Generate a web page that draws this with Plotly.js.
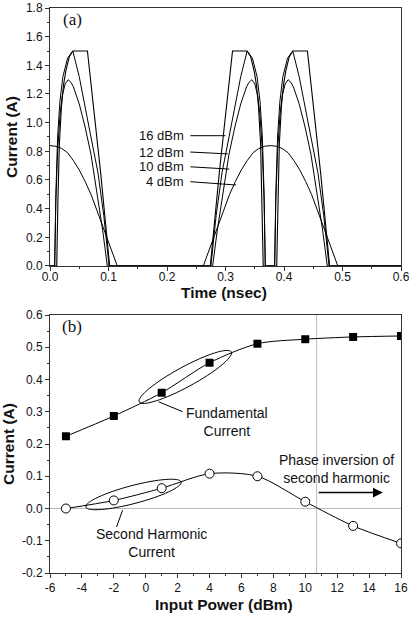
<!DOCTYPE html>
<html>
<head>
<meta charset="utf-8">
<script src="https://cdn.plot.ly/plotly-3.0.1.min.js"></script>
<style>html,body{margin:0;padding:0;background:#fff;}#chart{width:409px;height:623px;}</style>
</head>
<body>
<div id="chart"></div>
<script>
// ---------- Panel (a): current waveforms vs time (nsec) ----------
var t16 = [0, 0.0115, 0.0135, 0.016, 0.0195, 0.023, 0.027, 0.033, 0.039, 0.064, 0.0866, 0.102,
  0.274, 0.2894, 0.312, 0.337, 0.343, 0.349, 0.353, 0.3565, 0.36, 0.3625, 0.3645,
  0.3875, 0.3895, 0.392, 0.3955, 0.399, 0.403, 0.409, 0.415, 0.440, 0.4626, 0.478, 0.6];
var i16 = [0, 0, 0.45, 0.85, 1.11, 1.26, 1.36, 1.46, 1.5, 1.5, 0.65, 0,
  0, 0.65, 1.5, 1.5, 1.46, 1.36, 1.26, 1.11, 0.85, 0.45, 0,
  0, 0.45, 0.85, 1.11, 1.26, 1.36, 1.46, 1.5, 1.5, 0.65, 0, 0];

var t12 = [0, 0.008, 0.010, 0.013, 0.017, 0.022, 0.030, 0.039, 0.05, 0.06, 0.07, 0.082, 0.092, 0.101,
  0.275, 0.284, 0.294, 0.306, 0.316, 0.326, 0.337, 0.346, 0.354, 0.359, 0.363, 0.366, 0.368,
  0.384, 0.386, 0.389, 0.393, 0.398, 0.406, 0.415, 0.426, 0.436, 0.446, 0.458, 0.468, 0.477, 0.6];
var i12 = [0, 0, 0.5, 0.9, 1.15, 1.32, 1.45, 1.5, 1.32, 1.12, 0.9, 0.65, 0.35, 0,
  0, 0.35, 0.65, 0.9, 1.12, 1.32, 1.5, 1.45, 1.32, 1.15, 0.9, 0.5, 0,
  0, 0.5, 0.9, 1.15, 1.32, 1.45, 1.5, 1.32, 1.12, 0.9, 0.65, 0.35, 0, 0];

var t10 = [0, 0.008, 0.010, 0.013, 0.017, 0.021, 0.026, 0.031, 0.036, 0.04, 0.05, 0.06, 0.07, 0.08, 0.09, 0.098,
  0.278, 0.286, 0.296, 0.306, 0.316, 0.326, 0.336, 0.340, 0.345, 0.350, 0.355, 0.359, 0.363, 0.366, 0.368,
  0.384, 0.386, 0.389, 0.393, 0.397, 0.402, 0.407, 0.412, 0.416, 0.426, 0.436, 0.446, 0.456, 0.466, 0.474, 0.6];
var i10 = [0, 0, 0.45, 0.8, 1.05, 1.19, 1.27, 1.3, 1.28, 1.25, 1.13, 0.97, 0.78, 0.53, 0.25, 0,
  0, 0.25, 0.53, 0.78, 0.97, 1.13, 1.25, 1.28, 1.3, 1.27, 1.19, 1.05, 0.8, 0.45, 0,
  0, 0.45, 0.8, 1.05, 1.19, 1.27, 1.3, 1.28, 1.25, 1.13, 0.97, 0.78, 0.53, 0.25, 0, 0];

var t4 = [0, 0.01, 0.02, 0.03, 0.04, 0.05, 0.06, 0.07, 0.08, 0.09, 0.1, 0.108, 0.115,
  0.262, 0.269, 0.277, 0.287, 0.297, 0.307, 0.317, 0.327, 0.337, 0.347, 0.357, 0.367, 0.377,
  0.387, 0.397, 0.407, 0.417, 0.427, 0.437, 0.447, 0.457, 0.467, 0.477, 0.485, 0.492, 0.6];
var i4 = [0.84, 0.835, 0.82, 0.79, 0.735, 0.67, 0.59, 0.5, 0.39, 0.28, 0.165, 0.08, 0,
  0, 0.08, 0.165, 0.28, 0.39, 0.5, 0.59, 0.67, 0.735, 0.79, 0.82, 0.835, 0.84,
  0.835, 0.82, 0.79, 0.735, 0.67, 0.59, 0.5, 0.39, 0.28, 0.165, 0.08, 0, 0];

var waveLabels = ['16 dBm', '12 dBm', '10 dBm', '4 dBm'];

// ---------- Panel (b): harmonic currents vs input power ----------
var powerDbm = [-5, -2, 1, 4, 7, 10, 13, 16];
var fundamental = [0.224, 0.287, 0.359, 0.452, 0.511, 0.525, 0.532, 0.535];
var secondHarmonic = [0.0, 0.025, 0.063, 0.108, 0.100, 0.021, -0.054, -0.108];

// tick labels
var xTicksA = [0, 0.1, 0.2, 0.3, 0.4, 0.5, 0.6];
var xTickTextA = ['0.0', '0.1', '0.2', '0.3', '0.4', '0.5', '0.6'];
var yTicksA = [0, 0.2, 0.4, 0.6, 0.8, 1.0, 1.2, 1.4, 1.6, 1.8];
var yTickTextA = ['0.0', '0.2', '0.4', '0.6', '0.8', '1.0', '1.2', '1.4', '1.6', '1.8'];
var xTicksB = [-6, -4, -2, 0, 2, 4, 6, 8, 10, 12, 14, 16];
var xTickTextB = ['-6', '-4', '-2', '0', '2', '4', '6', '8', '10', '12', '14', '16'];
var yTicksB = [-0.2, -0.1, 0, 0.1, 0.2, 0.3, 0.4, 0.5, 0.6];
var yTickTextB = ['-0.2', '-0.1', '0.0', '0.1', '0.2', '0.3', '0.4', '0.5', '0.6'];

var FONT = 'Liberation Sans, Arial, sans-serif';
var lineStyle = {color: '#000', width: 1};

var traces = [
  {x: t16, y: i16, type: 'scatter', mode: 'lines', line: {color: '#000', width: 1.1}, xaxis: 'x', yaxis: 'y', name: waveLabels[0]},
  {x: t12, y: i12, type: 'scatter', mode: 'lines', line: lineStyle, xaxis: 'x', yaxis: 'y', name: waveLabels[1]},
  {x: t10, y: i10, type: 'scatter', mode: 'lines', line: lineStyle, xaxis: 'x', yaxis: 'y', name: waveLabels[2]},
  {x: t4, y: i4, type: 'scatter', mode: 'lines', line: lineStyle, xaxis: 'x', yaxis: 'y', name: waveLabels[3]},
  {x: powerDbm, y: fundamental, type: 'scatter', mode: 'lines+markers',
   line: {color: '#000', width: 1, shape: 'spline', smoothing: 0.8},
   marker: {symbol: 'square', size: 8, color: '#000'}, xaxis: 'x2', yaxis: 'y2', name: 'Fundamental'},
  {x: powerDbm, y: secondHarmonic, type: 'scatter', mode: 'lines+markers',
   line: {color: '#000', width: 1, shape: 'spline', smoothing: 0.8},
   marker: {symbol: 'circle', size: 9, color: '#fff', line: {color: '#000', width: 1}}, xaxis: 'x2', yaxis: 'y2', name: 'Second harmonic'}
];

function ellipsePath(cx, cy, ux, uy, vx, vy) {
  var k = 0.5523;
  function p(x, y) { return x + ',' + y; }
  var P0 = [cx + ux, cy + uy], P1 = [cx + vx, cy + vy], P2 = [cx - ux, cy - uy], P3 = [cx - vx, cy - vy];
  var s = 'M' + p(P0[0], P0[1]);
  s += ' C' + p(P0[0] + k * vx, P0[1] + k * vy) + ' ' + p(P1[0] + k * ux, P1[1] + k * uy) + ' ' + p(P1[0], P1[1]);
  s += ' C' + p(P1[0] - k * ux, P1[1] - k * uy) + ' ' + p(P2[0] + k * vx, P2[1] + k * vy) + ' ' + p(P2[0], P2[1]);
  s += ' C' + p(P2[0] - k * vx, P2[1] - k * vy) + ' ' + p(P3[0] - k * ux, P3[1] - k * uy) + ' ' + p(P3[0], P3[1]);
  s += ' C' + p(P3[0] + k * ux, P3[1] + k * uy) + ' ' + p(P0[0] - k * vx, P0[1] - k * vy) + ' ' + p(P0[0], P0[1]) + ' Z';
  return s;
}

var axisCommon = {
  showline: true, mirror: true, linecolor: '#333', linewidth: 1,
  ticks: 'outside', ticklen: 4, tickwidth: 1, tickcolor: '#333',
  showgrid: false, zeroline: false,
  tickfont: {family: FONT, size: 12, color: '#111'},
  ticklabeloverflow: 'allow',
  fixedrange: true
};
function ax(extra) { var o = JSON.parse(JSON.stringify(axisCommon)); for (var k in extra) o[k] = extra[k]; return o; }

var titleFont = {family: FONT, size: 15.5, color: '#111', weight: 'bold'};

var layout = {
  width: 409, height: 623,
  margin: {l: 50, r: 8, t: 8, b: 50},
  paper_bgcolor: '#fff', plot_bgcolor: '#fff',
  showlegend: false,
  xaxis: ax({anchor: 'y', domain: [0, 1], range: [0, 0.6], tickmode: 'array', tickvals: xTicksA, ticktext: xTickTextA,
    minor: {dtick: 0.05, ticklen: 2, tickcolor: '#333', ticks: 'outside'}, ticklabelstandoff: -4}),
  yaxis: ax({anchor: 'x', domain: [0.5434, 1], range: [0, 1.8], tickmode: 'array', tickvals: yTicksA, ticktext: yTickTextA,
    minor: {dtick: 0.1, ticklen: 2, tickcolor: '#333', ticks: 'outside'},
    title: {text: 'Current (A)', font: titleFont, standoff: 4}}),
  xaxis2: ax({anchor: 'y2', domain: [0, 1], range: [-6, 16], tickmode: 'array', tickvals: xTicksB, ticktext: xTickTextB,
    minor: {dtick: 1, ticklen: 2, tickcolor: '#333', ticks: 'outside'}}),
  yaxis2: ax({anchor: 'x2', domain: [0, 0.4566], range: [-0.2, 0.6], tickmode: 'array', tickvals: yTicksB, ticktext: yTickTextB,
    minor: {dtick: 0.05, ticklen: 2, tickcolor: '#333', ticks: 'outside'},
    zeroline: true, zerolinecolor: '#bbb', zerolinewidth: 1,
    title: {text: 'Current (A)', font: titleFont, standoff: 4}}),
  shapes: [
    // leader lines panel (a)
    {type: 'line', xref: 'x', yref: 'y', x0: 0.240, y0: 0.909, x1: 0.300, y1: 0.909, line: {color: '#000', width: 1}},
    {type: 'line', xref: 'x', yref: 'y', x0: 0.240, y0: 0.795, x1: 0.304, y1: 0.782, line: {color: '#000', width: 1}},
    {type: 'line', xref: 'x', yref: 'y', x0: 0.240, y0: 0.692, x1: 0.3065, y1: 0.676, line: {color: '#000', width: 1}},
    {type: 'line', xref: 'x', yref: 'y', x0: 0.240, y0: 0.588, x1: 0.318, y1: 0.565, line: {color: '#000', width: 1}},
    // vertical reference line panel (b)
    {type: 'line', xref: 'x2', yref: 'y2 domain', x0: 10.71, x1: 10.71, y0: 0, y1: 1, line: {color: '#bbb', width: 1}, layer: 'below'},
    // ellipses
    {type: 'path', xref: 'x2', yref: 'y2', path: ellipsePath(2.48, 0.408, 2.884, 0.0776, 0.301, -0.0273), line: {color: '#000', width: 1}},
    {type: 'path', xref: 'x2', yref: 'y2', path: ellipsePath(-0.767, 0.0435, 2.987, 0.0388, 0.144, -0.027), line: {color: '#000', width: 1}},
    // leader lines panel (b)
    {type: 'line', xref: 'x2', yref: 'y2', x0: 0.81, y0: 0.331, x1: 2.32, y1: 0.300, line: {color: '#000', width: 1}},
    {type: 'line', xref: 'x2', yref: 'y2', x0: -1.453, y0: -0.0056, x1: -1.83, y1: -0.0574, line: {color: '#000', width: 1}}
  ],
  annotations: [
    // x-axis titles
    {xref: 'paper', yref: 'paper', x: 0.495, y: 0.4956, yanchor: 'middle', text: 'Time (nsec)', showarrow: false, font: titleFont},
    {xref: 'paper', yref: 'paper', x: 0.495, y: -0.0549, yanchor: 'middle', text: 'Input Power (dBm)', showarrow: false, font: titleFont},
    {xref: 'x', yref: 'y', x: 0.0376, y: 1.72, text: '(a)', showarrow: false, font: {family: 'Liberation Serif, Times New Roman, serif', size: 17, color: '#111'}},
    {xref: 'x', yref: 'y', x: 0.2325, y: 0.909, xanchor: 'right', text: waveLabels[0], showarrow: false, font: {family: FONT, size: 13, color: '#111'}},
    {xref: 'x', yref: 'y', x: 0.2325, y: 0.795, xanchor: 'right', text: waveLabels[1], showarrow: false, font: {family: FONT, size: 13, color: '#111'}},
    {xref: 'x', yref: 'y', x: 0.2325, y: 0.692, xanchor: 'right', text: waveLabels[2], showarrow: false, font: {family: FONT, size: 13, color: '#111'}},
    {xref: 'x', yref: 'y', x: 0.2325, y: 0.588, xanchor: 'right', text: waveLabels[3], showarrow: false, font: {family: FONT, size: 13, color: '#111'}},
    {xref: 'x2', yref: 'y2', x: -4.65, y: 0.564, text: '(b)', showarrow: false, font: {family: 'Liberation Serif, Times New Roman, serif', size: 17, color: '#111'}},
    {xref: 'x2', yref: 'y2', x: 5.07, y: 0.269, text: 'Fundamental<br>Current', showarrow: false, font: {family: FONT, size: 14, color: '#111'}},
    {xref: 'x2', yref: 'y2', x: 0.333, y: -0.1065, text: 'Second Harmonic<br>Current', showarrow: false, font: {family: FONT, size: 14, color: '#111'}},
    {xref: 'x2', yref: 'y2', x: 11.97, y: 0.122, text: 'Phase inversion of<br>second harmonic', showarrow: false, font: {family: FONT, size: 14, color: '#111'}},
    {xref: 'x2', yref: 'y2', axref: 'x2', ayref: 'y2', x: 14.86, y: 0.0494, ax: 10.75, ay: 0.0494, text: '', showarrow: true,
     arrowhead: 2, arrowsize: 1.4, arrowwidth: 1.4, arrowcolor: '#000', standoff: 0}
  ]
};

Plotly.newPlot('chart', traces, layout, {displayModeBar: false, staticPlot: true});
</script>
</body>
</html>
